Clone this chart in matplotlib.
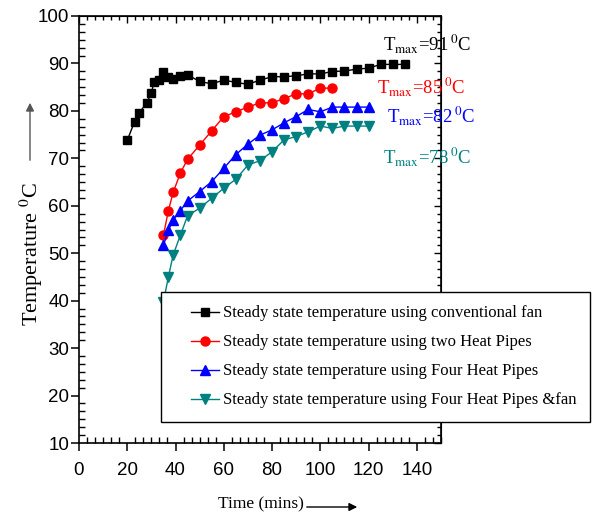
import matplotlib
matplotlib.use("Agg")
import matplotlib.pyplot as plt
from matplotlib.ticker import MultipleLocator
from matplotlib.lines import Line2D
from matplotlib.legend_handler import HandlerLine2D
from matplotlib.patches import FancyArrowPatch

# ---------------- data ----------------
x_fan = [20, 23, 25, 28, 30, 31, 33, 35, 37, 39, 42, 45, 50, 55, 60, 65, 70, 75,
         80, 85, 90, 95, 100, 105, 110, 115, 120, 125, 130, 135]
y_fan = [73.8, 77.7, 79.6, 81.7, 83.7, 86.0, 86.6, 88.2, 87.1, 86.8, 87.3, 87.6,
         86.2, 85.7, 86.5, 86.0, 85.6, 86.5, 87.2, 87.2, 87.4, 87.8, 87.8, 88.3,
         88.4, 88.8, 89.0, 89.8, 89.8, 89.8]

x_two = [35, 37, 39, 42, 45, 50, 55, 60, 65, 70, 75, 80, 85, 90, 95, 100, 105]
y_two = [53.8, 58.9, 62.8, 66.9, 69.8, 72.8, 75.8, 78.8, 79.8, 80.8, 81.7, 81.7,
         82.6, 83.6, 83.6, 84.8, 84.8]

x_four = [35, 37, 39, 42, 45, 50, 55, 60, 65, 70, 75, 80, 85, 90, 95, 100, 105,
          110, 115, 120]
y_four = [51.7, 54.8, 57.0, 59.0, 61.0, 63.0, 65.1, 67.9, 70.8, 73.0, 74.9, 76.0,
          77.5, 78.8, 80.3, 79.8, 80.8, 80.8, 80.8, 80.8]

x_fourfan = [35, 37, 39, 42, 45, 50, 55, 60, 65, 70, 75, 80, 85, 90, 95, 100,
             105, 110, 115, 120]
y_fourfan = [39.8, 44.9, 49.6, 53.8, 57.9, 59.5, 61.6, 63.7, 65.6, 68.6, 69.5,
             71.4, 73.9, 74.6, 75.6, 76.8, 76.3, 76.8, 76.8, 76.8]

labels = ["Steady state temperature using conventional fan",
          "Steady state temperature using two Heat Pipes",
          "Steady state temperature using Four Heat Pipes",
          "Steady state temperature using Four Heat Pipes &fan"]
tmax_values = [91, 85, 82, 78]
x_ticks = [0, 20, 40, 60, 80, 100, 120, 140]
y_ticks = [10, 20, 30, 40, 50, 60, 70, 80, 90, 100]

# ---------------- style ----------------
plt.rcParams['mathtext.fontset'] = 'stix'
SANS = ['Liberation Sans Narrow', 'Liberation Sans', 'DejaVu Sans']
SERIF = ['Liberation Serif', 'DejaVu Serif']
TEAL = '#008080'
colors = ['black', '#ff0000', '#0000ff', TEAL]
markers = ['s', 'o', '^', 'v']
msizes = [6, 6.5, 7, 7]

fig = plt.figure(figsize=(5.92, 5.15), dpi=100)
ax = fig.add_axes([79/592, 1-443/515, (441-79)/592, (443-16)/515])

series = [(x_fan, y_fan), (x_two, y_two), (x_four, y_four), (x_fourfan, y_fourfan)]
handles = []
for (xs, ys), c, m, ms, lab in zip(series, colors, markers, msizes, labels):
    h, = ax.plot(xs, ys, color=c, marker=m, markersize=ms, linewidth=1.0,
                 markeredgecolor=c, markerfacecolor=c, label=lab, clip_on=False)
    handles.append(h)

ax.set_xlim(0, 150)
ax.set_ylim(10, 100)
ax.set_xticks(x_ticks)
ax.set_yticks(y_ticks)
ax.xaxis.set_minor_locator(MultipleLocator(20/6))
ax.yaxis.set_minor_locator(MultipleLocator(10/6))
ax.tick_params(which='major', direction='out', length=6, width=1.1,
               labelsize=13.5)
ax.tick_params(axis='x', which='major', pad=8)
ax.tick_params(axis='y', which='major', pad=1)
ax.tick_params(which='minor', direction='in', length=4, width=1.0)
for lab in ax.get_xticklabels() + ax.get_yticklabels():
    lab.set_family(SANS)
for sp in ax.spines.values():
    sp.set_linewidth(1.2)

secx = ax.secondary_xaxis('top')
secx.set_xticks(x_ticks)
secx.xaxis.set_minor_locator(MultipleLocator(20/6))
secx.tick_params(which='both', direction='in', labeltop=False)
secx.tick_params(which='major', length=5, width=1.0)
secx.tick_params(which='minor', length=3, width=1.0)
secy = ax.secondary_yaxis('right')
secy.set_yticks(y_ticks)
secy.yaxis.set_minor_locator(MultipleLocator(10/6))
secy.tick_params(which='both', direction='in', labelright=False)
secy.tick_params(which='major', length=5, width=1.0)
secy.tick_params(which='minor', length=3, width=1.0)

# Tmax annotations
ann_pos = [(125.8, 92.8), (123.3, 83.8), (127.5, 77.5), (125.8, 69.0)]
for (px, py), c, t in zip(ann_pos, colors, tmax_values):
    ax.text(px, py, r'T$_{\mathrm{max}}$=%d$\,^{0}$C' % t, color=c, fontsize=13.5,
            family=SERIF, ha='left', va='baseline', clip_on=False)

# Legend
leg = ax.legend(handles=handles, loc='upper left',
                bbox_to_anchor=(161/592, 1-292/515), bbox_transform=fig.transFigure,
                borderaxespad=0, fancybox=False, edgecolor='black', framealpha=1,
                prop={'family': SERIF, 'size': 12.0}, handlelength=2.65,
                handletextpad=0.25, labelspacing=0.78, borderpad=0.8,
                handler_map={Line2D: HandlerLine2D(xpad=1.0)})
leg.get_frame().set_linewidth(1.0)
leg.set_zorder(10)

# Axis labels with arrows
fig.text(31/592, 1-254/515, r'Temperature $^{0}$C', rotation=90, ha='center',
         va='center', fontsize=16, family=SERIF)
fig.add_artist(FancyArrowPatch(
    (30/592, 1-163/515), (30/592, 1-100/515), transform=fig.transFigure,
    arrowstyle='-|>', mutation_scale=12, color='#555555', linewidth=1.0))
fig.text(261/592, 1-504/515, 'Time (mins)', ha='center', va='center',
         fontsize=12.5, family=SERIF)
fig.add_artist(FancyArrowPatch(
    (304/592, 1-507/515), (360/592, 1-507/515), transform=fig.transFigure,
    arrowstyle='-|>', mutation_scale=12, color='black', linewidth=1.0))

fig.savefig('out.png', dpi=100)
